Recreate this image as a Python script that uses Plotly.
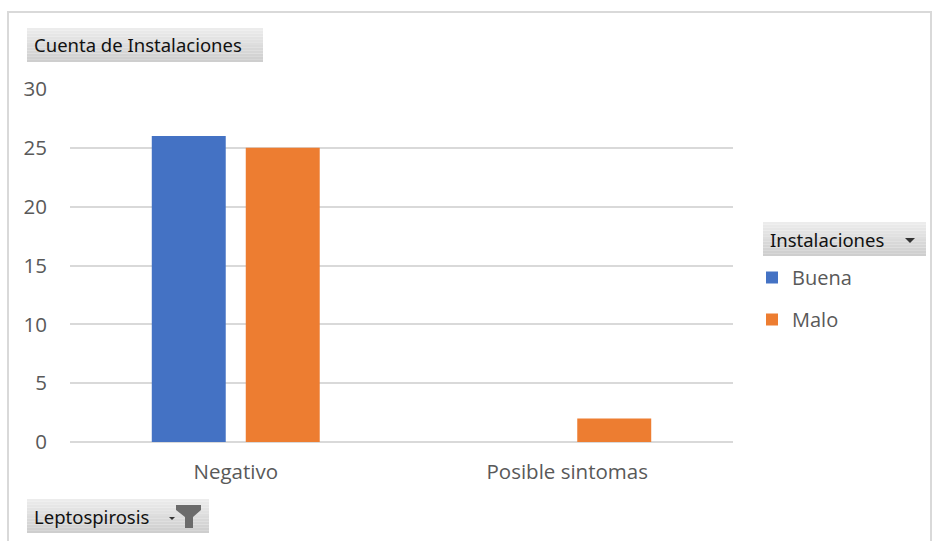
import plotly.graph_objects as go

# Pivot-chart data: count of installations by leptospirosis result
categories = ["Negativo", "Posible sintomas"]
buena = [26, None]
malo = [25, 2]
y_ticks = [0, 5, 10, 15, 20, 25, 30]

W, H = 933, 541
BLUE = "#4472C4"
ORANGE = "#ED7D31"
GRID = "#D9D9D9"
TICK_FONT = dict(family="Open Sans, Noto Sans, sans-serif", size=20.5, color="#595959")
BTN_FONT = dict(family="Noto Sans, Open Sans, sans-serif", size=18.5, color="#111111")


def fx(x):
    return x / W


def fy(y):
    return 1 - y / H


fig = go.Figure()
fig.add_trace(go.Bar(name="Buena", x=categories, y=buena, marker_color=BLUE,
                     marker_line_width=0, legendgroup="a"))
fig.add_trace(go.Bar(name="Malo", x=categories, y=malo, marker_color=ORANGE,
                     marker_line_width=0, legendgroup="b"))

shapes = []
annotations = []

# outer chart frame
shapes.append(dict(type="rect", xref="paper", yref="paper",
                   x0=fx(8), x1=fx(931), y0=fy(12), y1=fy(560),
                   line=dict(color=GRID, width=2), fillcolor="rgba(0,0,0,0)", layer="below"))


def field_button(x0, y0, x1, y1, text):
    # grey gradient field button
    steps = 12
    for i in range(steps):
        t = i / (steps - 1)
        c = int(236 - 30 * t)
        ya = y0 + (y1 - y0) * i / steps
        yb = y0 + (y1 - y0) * (i + 1) / steps
        shapes.append(dict(type="rect", xref="paper", yref="paper",
                           x0=fx(x0), x1=fx(x1), y0=fy(ya), y1=fy(yb),
                           line=dict(width=0), fillcolor=f"rgb({c},{c},{c})", layer="below"))
    annotations.append(dict(xref="paper", yref="paper", x=fx(x0 + 5), y=fy((y0 + y1) / 2),
                            text=text, showarrow=False, xanchor="left", yanchor="middle",
                            font=BTN_FONT))


field_button(27, 28, 263, 62, "Cuenta de Instalaciones")
field_button(763, 222, 926, 256, "Instalaciones")
field_button(27, 499, 209, 533, "Leptospirosis")

# dropdown arrow on the legend field button
shapes.append(dict(type="path", xref="paper", yref="paper",
                   path=f"M {fx(905)},{fy(238)} L {fx(915)},{fy(238)} L {fx(910)},{fy(243)} Z",
                   fillcolor="#333333", line=dict(width=0)))
# small arrow + funnel on the axis field button
shapes.append(dict(type="path", xref="paper", yref="paper",
                   path=f"M {fx(169)},{fy(517)} L {fx(175)},{fy(517)} L {fx(172)},{fy(520)} Z",
                   fillcolor="#333333", line=dict(width=0)))
shapes.append(dict(type="path", xref="paper", yref="paper",
                   path=(f"M {fx(176)},{fy(505)} L {fx(201)},{fy(505)} L {fx(201)},{fy(510)} "
                         f"L {fx(193)},{fy(517)} L {fx(193)},{fy(528)} L {fx(185)},{fy(528)} "
                         f"L {fx(185)},{fy(517)} L {fx(176)},{fy(510)} Z"),
                   fillcolor="#6b6b6b", line=dict(width=0)))

fig.update_layout(
    width=W, height=H,
    margin=dict(l=0, r=0, t=0, b=0, autoexpand=False),
    paper_bgcolor="white", plot_bgcolor="white",
    barmode="group", bargap=0.433, bargroupgap=0.213,
    shapes=shapes, annotations=annotations,
    showlegend=True,
    legend=dict(x=fx(752), y=fy(258), xanchor="left", yanchor="top",
                font=dict(family="Open Sans, Noto Sans, sans-serif", size=20, color="#595959"),
                tracegroupgap=13, itemwidth=30, bgcolor="rgba(0,0,0,0)"),
    xaxis=dict(domain=[fx(70), fx(733)], tickfont=TICK_FONT, showgrid=False,
               showline=False, ticks="", ticklabelstandoff=15, fixedrange=True,
               automargin=False),
    yaxis=dict(domain=[fy(442), fy(89)], range=[0, 30], tickvals=y_ticks,
               tickfont=TICK_FONT, gridcolor=GRID, gridwidth=1.5, zeroline=True,
               zerolinecolor=GRID, zerolinewidth=2, showline=False, ticks="",
               ticklabelstandoff=22, fixedrange=True, automargin=False),
)

fig.write_html("out.html")
